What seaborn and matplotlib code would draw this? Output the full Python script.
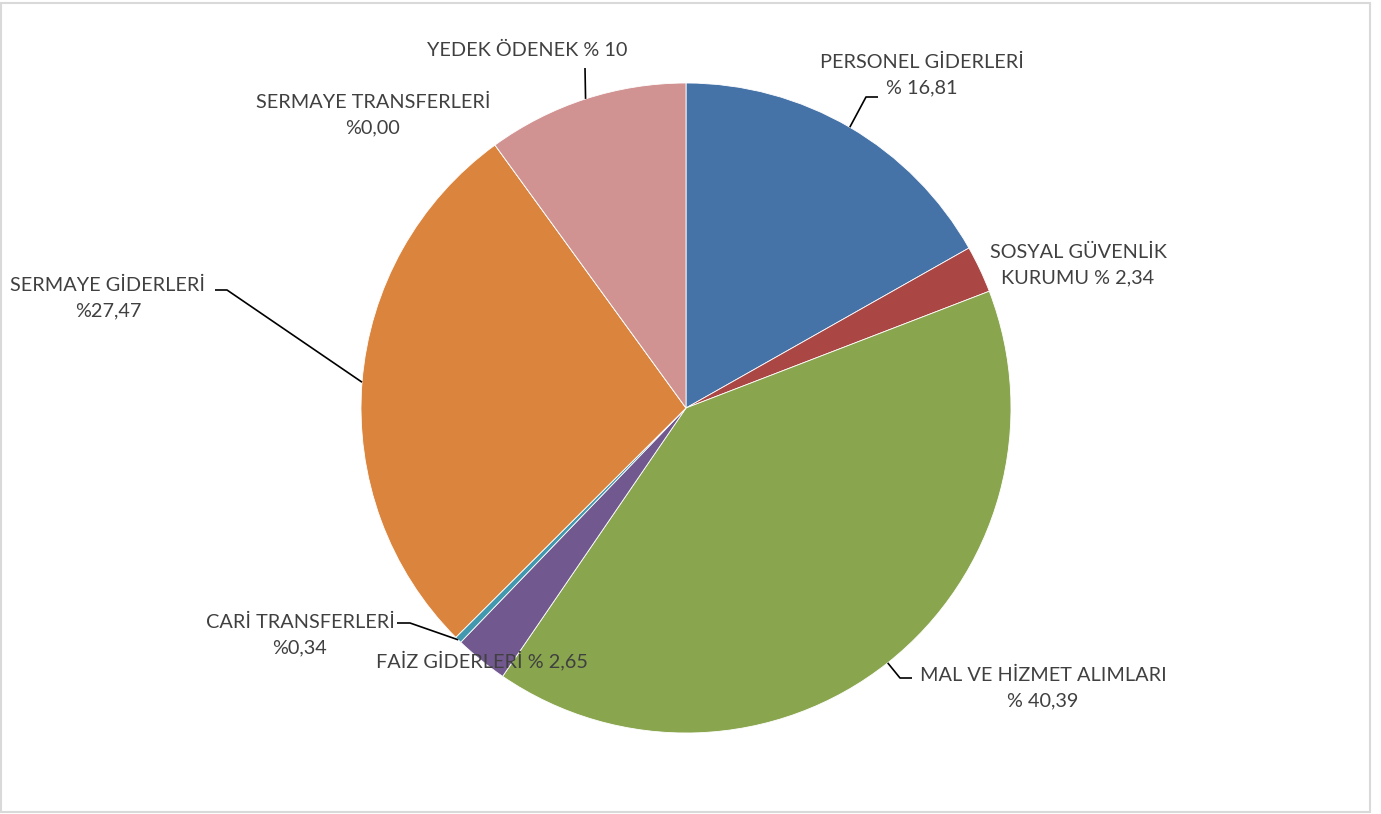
import numpy as np
import seaborn as sns
import matplotlib.pyplot as plt
from matplotlib.patches import Rectangle

# budget shares (percent), clockwise from 12 o'clock
categories = ["PERSONEL GİDERLERİ", "SOSYAL GÜVENLİK KURUMU", "MAL VE HİZMET ALIMLARI",
              "FAİZ GİDERLERİ", "CARİ TRANSFERLERİ", "SERMAYE GİDERLERİ",
              "SERMAYE TRANSFERLERİ", "YEDEK ÖDENEK"]
shares = [16.81, 2.34, 40.39, 2.65, 0.34, 27.47, 0.00, 10.0]
labels = ["PERSONEL GİDERLERİ\n% 16,81", "SOSYAL GÜVENLİK\nKURUMU % 2,34",
          "MAL VE HİZMET ALIMLARI\n% 40,39", "FAİZ GİDERLERİ % 2,65",
          "CARİ TRANSFERLERİ\n%0,34", "SERMAYE GİDERLERİ\n%27,47",
          "SERMAYE TRANSFERLERİ\n%0,00", "YEDEK ÖDENEK % 10"]
colors = ["#4572A7", "#AA4643", "#89A54E", "#71588F", "#4198AF", "#DB843D", "#4F81BD", "#D19392"]

# where each label sits (pixel coords, y from top) and whether it gets a leader line
label_pos = [(922, 75), (1078, 265), (1043, 688), (482, 660), (300, 635), (108, 298), (373, 115), (527, 50)]
leader_knee = [(866, 97), None, (900, 678), None, (410, 623), (227, 290), None, (585, 68)]
leader_end = [(878, 97), None, (912, 678), None, (397, 623), (215, 290), None, (585, 68)]

sns.set_theme(style="white")
plt.rcParams['font.family'] = ['Lato', 'DejaVu Sans']

W, H = 1381, 814
fig = plt.figure(figsize=(W / 100, H / 100), dpi=100)
ax = fig.add_axes([0, 0, 1, 1])

cx, cy, r = 686, 408, 325
# y axis is flipped, so counterclock=True draws clockwise on screen
wedges, _ = ax.pie(shares, colors=colors, startangle=-90, counterclock=True,
                   center=(cx, cy), radius=r, frame=True,
                   wedgeprops=dict(linewidth=0.6, edgecolor="white"))
ax.set_xlim(0, W)
ax.set_ylim(H, 0)
ax.set_aspect('equal')
ax.axis('off')

total = sum(shares)
cum = 0
for i, s in enumerate(shares):
    mid = cum + s / 2
    cum += s
    ang = np.deg2rad(90 - mid / total * 360)
    px, py = cx + r * np.cos(ang), cy - r * np.sin(ang)
    if leader_knee[i] is not None:
        kx, ky = leader_knee[i]
        ex, ey = leader_end[i]
        ax.plot([px, kx, ex], [py, ky, ey], color="black", lw=1.2, solid_capstyle='butt')
    lx, ly = label_pos[i]
    ax.text(lx, ly, labels[i], ha='center', va='center', fontsize=14.3,
            color="#404040", linespacing=1.6)

ax.add_patch(Rectangle((1.5, 3), 1369, 809, fill=False, edgecolor="#d9d9d9", lw=1.5))

fig.savefig("out.png", dpi=100)
